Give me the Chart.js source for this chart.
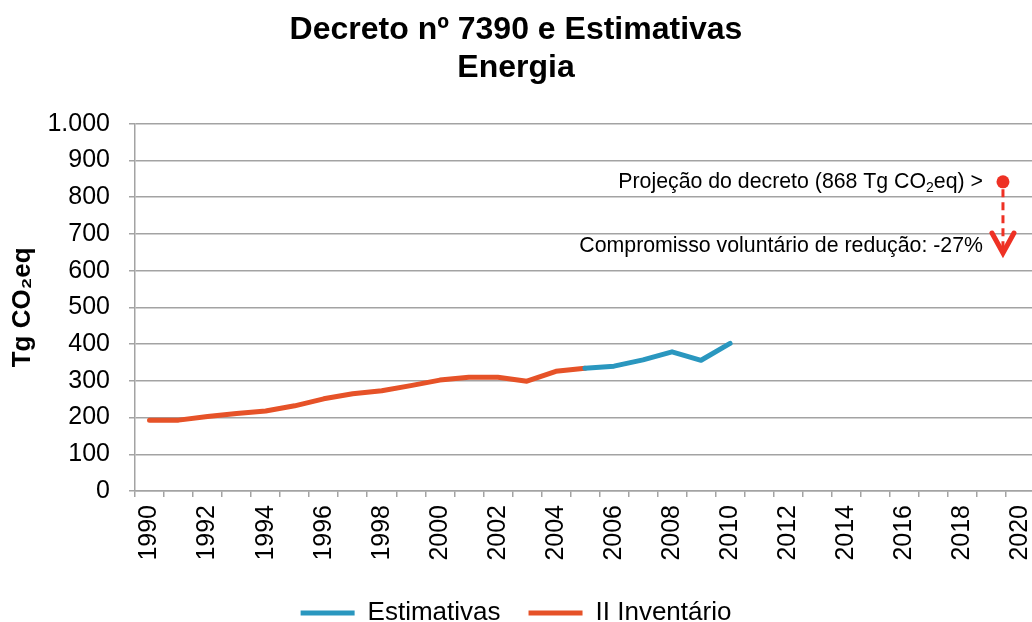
<!DOCTYPE html>
<html>
<head>
<meta charset="utf-8">
<script src="https://cdn.jsdelivr.net/npm/chart.js@4/dist/chart.umd.min.js"></script>
<style>
  html, body { margin: 0; padding: 0; background: #ffffff; overflow: hidden; }
  #wrap { width: 1032px; height: 622px; overflow: hidden; position: relative; }
  canvas { display: block; }
</style>
</head>
<body>
<div id="wrap"><canvas id="c" width="1032" height="636"></canvas></div>
<script>
// ---------- data ----------
const titleLines = ['Decreto nº 7390 e Estimativas', 'Energia'];
const yAxisTitle = 'Tg CO₂eq';

const inventarioYears  = [1990, 1991, 1992, 1993, 1994, 1995, 1996, 1997, 1998, 1999, 2000, 2001, 2002, 2003, 2004, 2005];
const inventarioValues = [ 193,  193,  203,  211,  218,  232,  251,  265,  273,  287,  302,  310,  310,  299,  326,  334];

const estimativasYears  = [2005, 2006, 2007, 2008, 2009, 2010];
const estimativasValues = [ 334,  340,  357,  379,  356,  402];

const xLabelFirstYear = 1990;
const xLabelLastYear  = 2020;
const yTicks = [0, 100, 200, 300, 400, 500, 600, 700, 800, 900, 1000];

// decree projection annotation (values as plotted in the picture)
const projectionYear      = 2019.4;
const projectionPlotted   = 842;
const arrowShaftStart     = 822;
const reductionTipPlotted = 648;
const projectionLabel     = ['Projeção do decreto (868 Tg CO', '2', 'eq) >'];
const reductionLabel      = 'Compromisso voluntário de redução: -27%';

// ---------- style ----------
const FONT = "'Liberation Sans', Arial, Helvetica, sans-serif";
const BLUE = '#2A97BF';
const ORANGE = '#E65228';
const RED = '#EE3124';
const GRID = '#A3A3A3';

Chart.defaults.font.family = FONT;
Chart.defaults.color = '#000000';

const toPoints = (xs, ys) => xs.map((x, i) => ({ x: x, y: ys[i] }));

function drawRightText(ctx, parts, rightX, midY, size) {
  const mainFont = size + 'px ' + FONT;
  const subFont = Math.round(size * 0.65) + 'px ' + FONT;
  let total = 0;
  const widths = parts.map(([t, sub]) => {
    ctx.font = sub ? subFont : mainFont;
    const w = ctx.measureText(t).width;
    total += w;
    return w;
  });
  let x = rightX - total;
  ctx.textAlign = 'left';
  ctx.textBaseline = 'middle';
  parts.forEach(([t, sub], i) => {
    ctx.font = sub ? subFont : mainFont;
    ctx.fillText(t, x, sub ? midY + size * 0.28 : midY);
    x += widths[i];
  });
}

const annotationPlugin = {
  id: 'decreeAnnotation',
  afterDatasetsDraw(chart) {
    const { ctx, scales: { x, y } } = chart;
    const px = x.getPixelForValue(projectionYear);
    const py = y.getPixelForValue(projectionPlotted);
    const tipY = y.getPixelForValue(reductionTipPlotted);
    ctx.save();
    ctx.strokeStyle = RED;
    ctx.lineWidth = 5;
    ctx.lineCap = 'round';
    ctx.lineJoin = 'miter';
    ctx.beginPath();
    ctx.moveTo(px - 11, tipY - 20);
    ctx.lineTo(px, tipY);
    ctx.lineTo(px + 11, tipY - 20);
    ctx.stroke();
    ctx.fillStyle = '#000000';
    drawRightText(ctx, [[projectionLabel[0], false], [projectionLabel[1], true], [projectionLabel[2], false]], px - 20, py, 21.3);
    drawRightText(ctx, [[reductionLabel, false]], px - 20, tipY - 7, 21.3);
    ctx.restore();
  }
};

new Chart(document.getElementById('c'), {
  type: 'line',
  data: {
    datasets: [
      {
        label: 'Estimativas',
        data: toPoints(estimativasYears, estimativasValues),
        borderColor: BLUE,
        backgroundColor: BLUE,
        borderWidth: 5,
        pointRadius: 0,
        borderCapStyle: 'round',
        borderJoinStyle: 'round',
        tension: 0
      },
      {
        label: 'II Inventário',
        data: toPoints(inventarioYears, inventarioValues),
        borderColor: ORANGE,
        backgroundColor: ORANGE,
        borderWidth: 5,
        pointRadius: 0,
        borderCapStyle: 'round',
        borderJoinStyle: 'round',
        tension: 0
      },
      {
        label: 'Projeção',
        data: [{ x: projectionYear, y: projectionPlotted }],
        showLine: false,
        pointRadius: 6.5,
        pointBackgroundColor: RED,
        pointBorderColor: RED,
        pointBorderWidth: 0
      },
      {
        label: 'Redução',
        data: [{ x: projectionYear, y: arrowShaftStart }, { x: projectionYear, y: reductionTipPlotted }],
        borderColor: RED,
        borderWidth: 3,
        borderDash: [8, 5],
        pointRadius: 0
      }
    ]
  },
  options: {
    responsive: false,
    animation: false,
    events: [],
    layout: { padding: 0, autoPadding: false },
    plugins: {
      tooltip: { enabled: false },
      title: {
        display: true,
        text: titleLines,
        color: '#000000',
        font: { size: 32, weight: 'bold', lineHeight: 1.2 },
        padding: { top: 11, bottom: 36 }
      },
      legend: {
        position: 'bottom',
        labels: {
          font: { size: 26 },
          color: '#000000',
          boxWidth: 54,
          boxHeight: 5,
          padding: 28,
          generateLabels(chart) {
            return chart.data.datasets.slice(0, 2).map((ds, i) => ({
              text: ds.label,
              fillStyle: ds.borderColor,
              strokeStyle: ds.borderColor,
              lineWidth: 0,
              hidden: false,
              datasetIndex: i
            }));
          }
        }
      }
    },
    scales: {
      x: {
        type: 'linear',
        min: xLabelFirstYear - 0.5,
        max: 2020.4,
        afterBuildTicks(scale) {
          const t = [];
          for (let v = xLabelFirstYear - 0.5; v <= scale.max + 1e-9; v += 0.5) t.push({ value: v });
          scale.ticks = t;
        },
        afterFit(scale) {
          scale.height = 81;
          scale.paddingLeft = 0;
          scale.paddingRight = 0;
        },
        ticks: {
          autoSkip: false,
          minRotation: 90,
          maxRotation: 90,
          padding: 8,
          font: { size: 25 },
          color: '#000000',
          callback(v) {
            return (Number.isInteger(v) && (v - xLabelFirstYear) % 2 === 0 && v <= xLabelLastYear) ? String(v) : '';
          }
        },
        grid: {
          drawOnChartArea: false,
          drawTicks: true,
          tickLength: 6,
          lineWidth: 1.5,
          tickColor: (ctx) => (ctx.tick && Math.abs(ctx.tick.value % 1) === 0.5) ? GRID : 'rgba(0,0,0,0)'
        },
        border: { color: GRID, width: 1.5 }
      },
      y: {
        type: 'linear',
        min: 0,
        max: 1000,
        afterBuildTicks(scale) {
          scale.ticks = yTicks.map(v => ({ value: v }));
        },
        afterFit(scale) {
          scale.width = 135;
        },
        ticks: {
          padding: 19,
          font: { size: 25 },
          color: '#000000',
          callback(v) {
            return String(v).replace(/\B(?=(\d{3})+(?!\d))/g, '.');
          }
        },
        grid: {
          color: GRID,
          lineWidth: 1.5,
          tickLength: 6,
          tickColor: GRID
        },
        border: { color: GRID, width: 1.5 },
        title: {
          display: true,
          text: yAxisTitle,
          color: '#000000',
          font: { size: 26, weight: 'bold', lineHeight: 1.2 },
          padding: { top: 7, bottom: 0 }
        }
      }
    }
  },
  plugins: [annotationPlugin]
});
</script>
</body>
</html>
